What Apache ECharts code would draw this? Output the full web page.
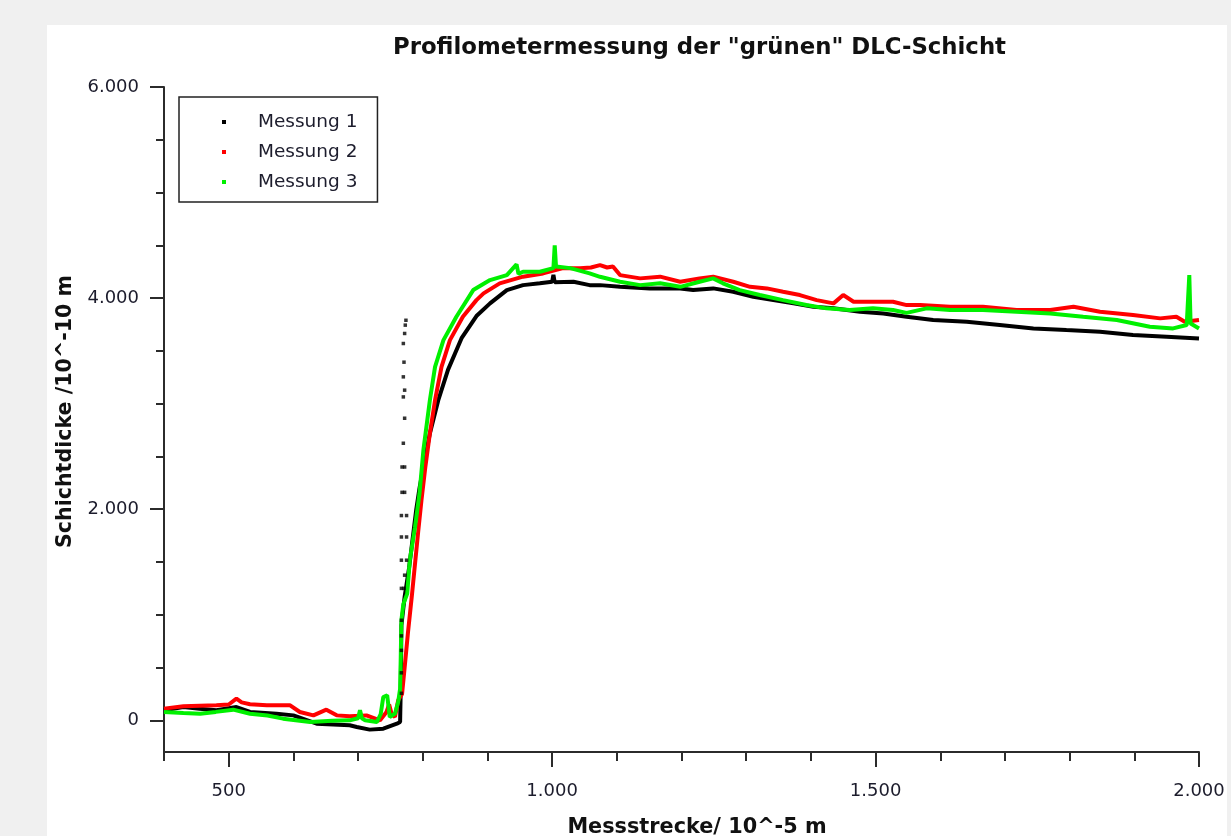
<!DOCTYPE html>
<html>
<head>
<meta charset="utf-8">
<script src="https://cdn.jsdelivr.net/npm/echarts@6/dist/echarts.min.js"></script>
<style>
html,body{margin:0;padding:0;width:1231px;height:836px;background:#f0f0f0;overflow:hidden;}
#chart{position:absolute;left:47px;top:25px;width:1180px;height:811px;background:#ffffff;}
</style>
</head>
<body>
<div id="chart"></div>
<script>
// ---- data ----
const seriesNames = ['Messung 1', 'Messung 2', 'Messung 3'];
const xMajorTicks = [500, 1000, 1500, 2000];
const xMinorTicks = [400, 600, 700, 800, 900, 1100, 1200, 1300, 1400, 1600, 1700, 1800, 1900];
const yMajorTicks = [0, 2000, 4000, 6000];
const yMinorTicks = [500, 1000, 1500, 2500, 3000, 3500, 4500, 5000, 5500];

const messung1 = [
  [400,95],[430,126],[455,110],[481,95],[512,126],[533,79],[574,63],[600,47],[636,-32],[687,-47],
  [698,-63],[718,-88],[739,-79],[760,-32],[765,-16],[766,300],[767,900],[772,1170],[779,1450],
  [785,1750],[790,2000],[795,2200],[801,2400],[811,2718],[824,3033],[839,3320],[860,3620],
  [883,3830],[904,3950],[930,4076],[955,4123],[981,4140],[1000,4155],[1002,4220],[1004,4150],
  [1033,4155],[1058,4123],[1074,4123],[1105,4107],[1151,4092],[1198,4092],[1218,4076],[1249,4092],
  [1280,4060],[1311,4013],[1342,3981],[1373,3950],[1404,3918],[1435,3903],[1476,3871],[1512,3855],
  [1548,3823],[1589,3792],[1641,3776],[1692,3745],[1744,3713],[1795,3697],[1847,3681],[1898,3650],
  [1950,3634],[2000,3618]
];
const messung1Spike = [
  [767,256],[767,450],[767,663],[767,800],[767,948],[767,1250],[771,1250],[772,1375],[767,1517],
  [775,1517],[767,1737],[775,1737],[767,1940],[775,1940],[768,2160],[772,2160],[768,2400],[772,2400],
  [770,2625],[772,2862],[770,3064],[772,3128],[770,3254],[771,3393],[770,3570],[772,3665],[773,3744],[774,3790]
];
const messung2 = [
  [400,111],[430,133],[481,142],[500,150],[512,205],[520,170],[533,152],[559,142],[595,142],[610,79],
  [631,47],[651,101],[667,47],[687,38],[713,47],[734,0],[744,79],[748,150],[752,60],[757,32],[762,190],
  [768,250],[772,500],[777,822],[783,1170],[788,1480],[793,1790],[798,2085],[804,2400],[811,2718],
  [819,3033],[829,3349],[842,3602],[862,3823],[883,3981],[894,4045],[919,4140],[955,4203],[986,4234],
  [1017,4284],[1043,4284],[1060,4290],[1074,4313],[1085,4290],[1094,4300],[1105,4218],[1136,4187],
  [1167,4203],[1198,4155],[1228,4187],[1249,4203],[1280,4155],[1306,4107],[1332,4092],[1357,4060],
  [1383,4029],[1409,3981],[1435,3950],[1450,4029],[1466,3966],[1496,3966],[1527,3966],[1548,3934],
  [1569,3934],[1615,3918],[1666,3918],[1718,3887],[1770,3887],[1806,3918],[1847,3871],[1898,3839],
  [1940,3808],[1965,3823],[1978,3776],[2000,3792]
];
const messung3 = [
  [400,79],[430,70],[456,63],[480,80],[507,101],[533,63],[560,45],[584,16],[626,-16],[660,-5],
  [687,0],[700,20],[703,95],[706,20],[711,0],[729,-16],[735,60],[739,221],[745,237],[749,32],[757,63],
  [762,174],[765,300],[766,600],[767,950],[770,1100],[776,1200],[780,1517],[788,1829],[795,2150],
  [801,2560],[811,3033],[819,3349],[832,3602],[852,3823],[878,4076],[904,4171],[930,4218],[945,4320],
  [948,4230],[955,4250],[981,4250],[1002,4284],[1004,4500],[1006,4300],[1028,4284],[1058,4234],
  [1074,4202],[1105,4155],[1136,4123],[1167,4140],[1198,4107],[1228,4155],[1249,4187],[1264,4140],
  [1290,4076],[1321,4029],[1357,3981],[1393,3934],[1424,3903],[1460,3887],[1496,3903],[1527,3887],
  [1548,3860],[1579,3903],[1615,3887],[1666,3887],[1718,3871],[1770,3855],[1821,3823],[1873,3792],
  [1924,3729],[1960,3713],[1981,3745],[1985,4218],[1987,3760],[2000,3713]
];

const colors = ['#000000', '#ff0000', '#00f000'];
const FONT = 'DejaVu Sans';
const fmt = v => String(v).replace(/\B(?=(\d{3})+(?!\d))/g, '.');

const chart = echarts.init(document.getElementById('chart'), null, {renderer: 'canvas'});
const axisLineStyle = {color: '#2b2b2b', width: 2};

const option = {
  animation: false,
  backgroundColor: '#ffffff',
  title: {
    text: 'Profilometermessung der "grünen" DLC-Schicht',
    left: 341, top: 7,
    textStyle: {fontFamily: FONT, fontWeight: 'bold', fontSize: 22.8, color: '#111'}
  },
  legend: {
    orient: 'vertical',
    left: 132, top: 72,
    padding: [15, 20, 10, 43],
    itemGap: 10,
    itemWidth: 58, itemHeight: 4,
    icon: 'path://M0 0H10V10H0Z',
    borderColor: '#222', borderWidth: 1.5,
    backgroundColor: '#ffffff',
    textStyle: {fontFamily: FONT, fontSize: 18.5, color: '#1c1c2c', lineHeight: 20},
    data: seriesNames
  },
  grid: {left: 117, top: 62, right: 28, bottom: 84, containLabel: false, outerBoundsMode: 'none'},
  xAxis: [{
    type: 'value', min: 400, max: 2000,
    name: 'Messstrecke/ 10^-5 m', nameLocation: 'middle', nameGap: 65,
    nameTextStyle: {fontFamily: FONT, fontWeight: 'bold', fontSize: 20.8, color: '#111', padding: [0, 0, 0, 31]},
    axisLine: {show: true, onZero: false, lineStyle: axisLineStyle},
    axisTick: {show: true, length: 15, customValues: xMajorTicks, lineStyle: axisLineStyle},
    axisLabel: {customValues: xMajorTicks, margin: 30, formatter: fmt, fontFamily: FONT, fontSize: 18, color: '#1c1c2c'},
    splitLine: {show: false}
  }, {
    type: 'value', min: 400, max: 2000, position: 'bottom',
    axisLine: {show: false, onZero: false},
    axisTick: {show: true, length: 9, customValues: xMinorTicks, lineStyle: axisLineStyle},
    axisLabel: {show: false},
    splitLine: {show: false}
  }],
  yAxis: [{
    type: 'value', min: -300, max: 6000,
    name: 'Schichtdicke /10^-10 m', nameLocation: 'middle', nameGap: 88, nameRotate: 90,
    nameTextStyle: {fontFamily: FONT, fontWeight: 'bold', fontSize: 20.6, color: '#111', padding: [0, 0, 0, 16]},
    axisLine: {show: true, onZero: false, lineStyle: axisLineStyle},
    axisTick: {show: true, length: 14, customValues: yMajorTicks, lineStyle: axisLineStyle},
    axisLabel: {customValues: yMajorTicks, margin: 25, formatter: fmt, fontFamily: FONT, fontSize: 18, color: '#1c1c2c'},
    splitLine: {show: false}
  }, {
    type: 'value', min: -300, max: 6000, position: 'left',
    axisLine: {show: false, onZero: false},
    axisTick: {show: true, length: 8, customValues: yMinorTicks, lineStyle: axisLineStyle},
    axisLabel: {show: false},
    splitLine: {show: false}
  }],
  series: [
    {name: seriesNames[0], type: 'line', data: messung1, symbol: 'none', color: colors[0],
     lineStyle: {width: 4, color: colors[0]}, z: 2},
    {name: seriesNames[0], type: 'scatter', data: messung1Spike, symbol: 'rect', symbolSize: 3.5,
     itemStyle: {color: colors[0]}, z: 5},
    {name: seriesNames[1], type: 'line', data: messung2, symbol: 'none', color: colors[1],
     lineStyle: {width: 4, color: colors[1]}, z: 3},
    {name: seriesNames[2], type: 'line', data: messung3, symbol: 'none', color: colors[2],
     lineStyle: {width: 4, color: colors[2]}, z: 4}
  ]
};
chart.setOption(option);
</script>
</body>
</html>
